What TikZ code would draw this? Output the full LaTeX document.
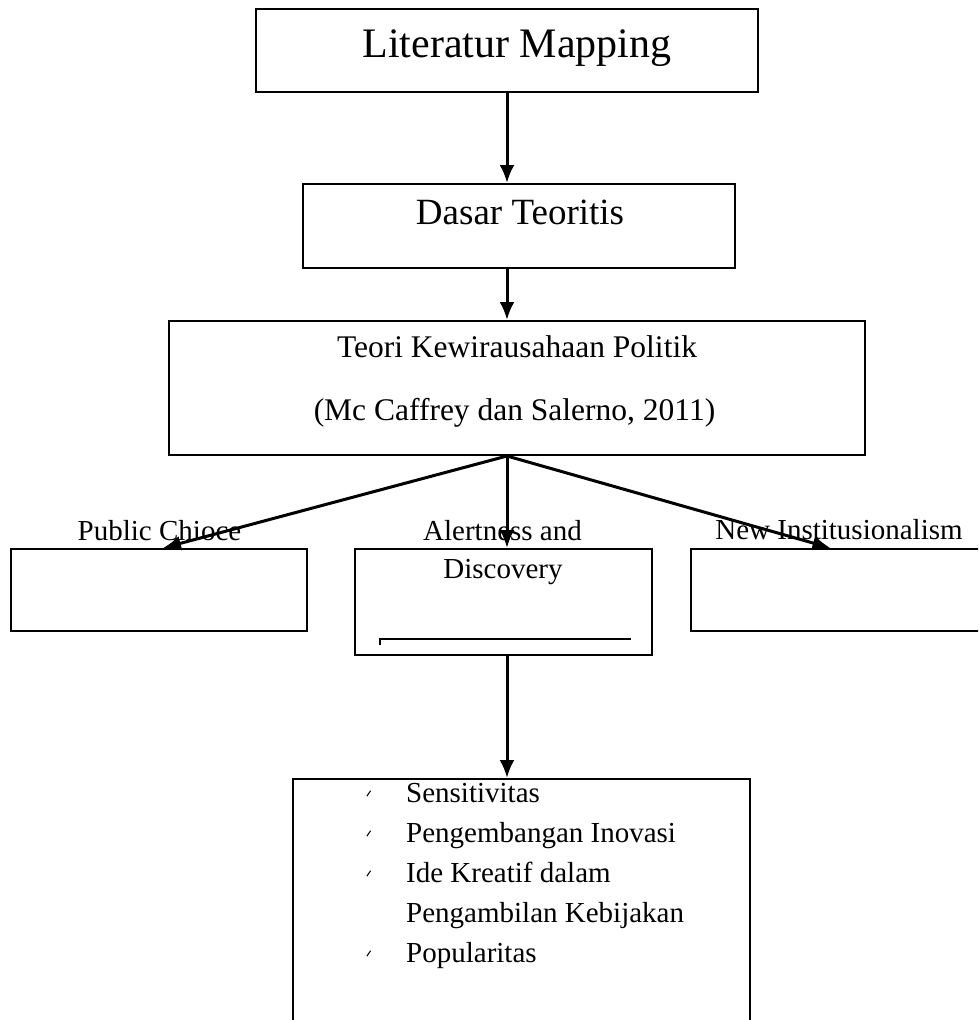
\documentclass[tikz,border=0pt]{standalone}
\usepackage{fontspec}
\setmainfont{Liberation Serif}
\usetikzlibrary{arrows.meta,positioning}

\begin{document}
\begin{tikzpicture}[x=1pt,y=-1pt,
    box/.style={draw,line width=2pt,inner sep=0pt},
    link/.style={line width=3pt,-{Latex[length=18pt,width=15pt]}},
    lbl/.style={anchor=base,inner sep=0pt,font=\fontsize{29}{33}\selectfont}]
  \useasboundingbox (0,0) rectangle (978,1020);
  \clip (0,0) rectangle (978,1020);

  % boxes
  \node[box,minimum width=502pt,minimum height=83pt] (lit) at (507,50.5) {};
  \node[box,minimum width=432pt,minimum height=84pt] (dasar) at (519,226) {};
  \node[box,minimum width=696pt,minimum height=134pt] (teori) at (517,388) {};
  \node[box,minimum width=296pt,minimum height=82pt] (public) at (159,590) {};
  \node[box,minimum width=297pt,minimum height=106pt] (alert) at (503.5,602) {};
  \node[box,minimum width=299pt,minimum height=82pt] (inst) at (840.5,590) {};
  \node[box,minimum width=457pt,minimum height=261pt] (traits) at (521.5,909.5) {};

  % texts
  \node[lbl,font=\fontsize{42}{48}\selectfont] (littext) at (517,57) {Literatur Mapping};
  \node[lbl,font=\fontsize{37}{42}\selectfont] (dasartext) at (520,224) {Dasar Teoritis};
  \node[lbl,font=\fontsize{31.5}{36}\selectfont] (teoritext) at (517,357) {Teori Kewirausahaan Politik};
  \node[lbl,font=\fontsize{31.5}{36}\selectfont] (teorisrc) at (514.5,420) {(Mc Caffrey dan Salerno, 2011)};
  \node[lbl] (publictext) at (159.5,540) {Public Chioce};
  \node[lbl] (alerttext) at (502.5,540) {Alertness and};
  \node[lbl] (alerttext2) at (503,578) {Discovery};
  \node[lbl] (insttext) at (839,539) {New Institusionalism};
  \draw[line width=1.5pt] (380,645) -- (380,639) -- (631,639);

  \def\ytop{802} \def\dy{40}
  \foreach \txt [count=\k from 0] in {Sensitivitas,Pengembangan Inovasi,Ide Kreatif dalam,Pengambilan Kebijakan,Popularitas}{
      \pgfmathsetmacro{\yb}{\ytop+\k*\dy}
      \node[lbl,anchor=base west] (item\k) at (406,\yb) {\txt};
      \ifnum\k=3\else
        \draw[line width=1pt,line cap=round] (367,\yb-6) -- (369,\yb-9) -- (370.5,\yb-11);
      \fi
  }

  % connectors
  \draw[link] (lit.south) -- (lit.south |- dasar.north);
  \draw[link] (lit.south |- dasar.south) -- (lit.south |- teori.north);
  \coordinate (fork) at (lit.south |- teori.south);
  \draw[link] (fork) -- ([xshift=4pt]public.north);
  \draw[link] (fork) -- (fork |- alert.north);
  \draw[link] (fork) -- ([xshift=-10pt]inst.north);
  \draw[link] (fork |- alert.south) -- (fork |- traits.north);
\end{tikzpicture}
\end{document}
